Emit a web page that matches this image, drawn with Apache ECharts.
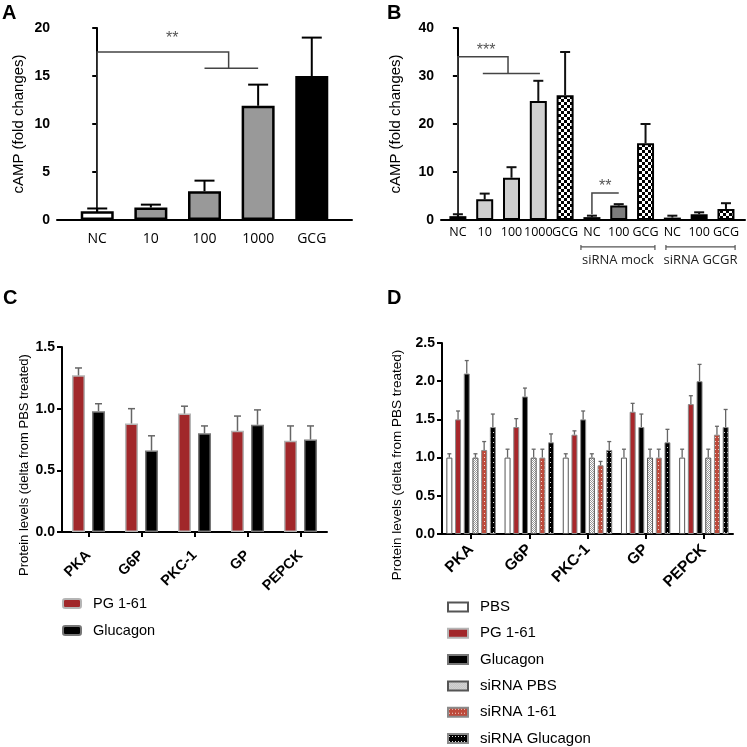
<!DOCTYPE html>
<html><head><meta charset="utf-8">
<script src="https://cdn.jsdelivr.net/npm/echarts@6/dist/echarts.min.js"></script>
<style>html,body{margin:0;padding:0;background:#fff}#c{width:747px;height:747px}</style>
</head><body><div id="c"></div>
<script>
// ---------------- DATA ----------------
// Panel A
const catsA = ['NC', '10', '100', '1000', 'GCG'];
const valA = [0.9, 1.3, 3.0, 11.9, 15.0];
const errA = [1.2, 1.6, 4.1, 14.1, 19.0];
// Panel B
const catsB = ['NC', '10', '100', '1000', 'GCG', 'NC', '100', 'GCG', 'NC', '100', 'GCG'];
const valB = [0.8, 4.3, 8.8, 24.8, 26.0, 0.6, 3.0, 16.0, 0.5, 1.2, 2.3];
const errB = [1.2, 5.5, 11.0, 29.0, 35.0, 0.9, 3.3, 20.0, 0.9, 1.6, 3.5];
const groupsB = ['siRNA mock', 'siRNA GCGR'];
const groupRangeB = [[4.59, 7.35], [7.76, 10.34]];
// Panel C
const proteins = ['PKA', 'G6P', 'PKC-1', 'GP', 'PEPCK'];
const seriesC = ['PG 1-61', 'Glucagon'];
const valC_PG = [1.27, 0.88, 0.96, 0.82, 0.74];
const errC_PG = [1.33, 1.00, 1.02, 0.94, 0.86];
const valC_Glu = [0.98, 0.66, 0.80, 0.87, 0.75];
const errC_Glu = [1.04, 0.78, 0.86, 0.99, 0.86];
// Panel D
const seriesD = ['PBS', 'PG 1-61', 'Glucagon', 'siRNA PBS', 'siRNA 1-61', 'siRNA Glucagon'];
const valD_PBS = [1.0, 1.0, 1.0, 1.0, 1.0];
const errD_PBS = [1.05, 1.11, 1.05, 1.11, 1.11];
const valD_PG = [1.5, 1.4, 1.3, 1.6, 1.7];
const errD_PG = [1.61, 1.51, 1.35, 1.71, 1.81];
const valD_Glu = [2.1, 1.8, 1.5, 1.4, 2.0];
const errD_Glu = [2.27, 1.91, 1.61, 1.57, 2.22];
const valD_siPBS = [1.0, 1.0, 1.0, 1.0, 1.0];
const errD_siPBS = [1.05, 1.11, 1.05, 1.11, 1.11];
const valD_si161 = [1.1, 1.0, 0.9, 1.0, 1.3];
const errD_si161 = [1.21, 1.11, 0.95, 1.11, 1.41];
const valD_siGlu = [1.4, 1.2, 1.1, 1.2, 1.4];
const errD_siGlu = [1.57, 1.31, 1.21, 1.37, 1.63];
// Significance annotations (data coordinates)
const bracketsA = [[[0, 1.3], [0, 17.5], [2.45, 17.5], [2.45, 15.8]], [[2.0, 15.8], [3.0, 15.8]]];
const starsA = [['**', 1.4, 18.9]];
const bracketsB = [[[0, 1.4], [0, 34], [1.87, 34], [1.87, 30.5]], [[0.93, 30.5], [3.06, 30.5]], [[5, 1.2], [5, 5.6], [6, 5.6]]];
const starsB = [['***', 1.05, 35.3]];
const starsB2 = [['**', 5.5, 7.0]];
const groupLineYB = -5.6;
const groupLabelYB = -8.4;

// ---------------- STYLE HELPERS ----------------
function makePattern(w, h, bg, fg, cells) {
  const cv = document.createElement('canvas');
  cv.width = w; cv.height = h;
  const g = cv.getContext('2d');
  g.fillStyle = bg; g.fillRect(0, 0, w, h);
  g.fillStyle = fg;
  cells.forEach(c => g.fillRect(c[0], c[1], c[2], c[3]));
  return { image: cv, repeat: 'repeat' };
}
const checker = makePattern(6, 6, '#fff', '#000', [[0, 0, 3, 3], [3, 3, 3, 3]]);
const siPBSPat = makePattern(2, 2, '#fff', '#9a9a9a', [[0, 0, 1, 1], [1, 1, 1, 1]]);
const si161Pat = makePattern(3, 4, '#bd4a3b', '#f3d6cf', [[1, 1, 1, 1]]);
const siGluPat = makePattern(3, 5, '#000', '#ddd', [[1, 2, 1, 1]]);

const colorsA = ['#ffffff', '#999999', '#999999', '#999999', '#000000'];
const colorsB = ['#ffffff', '#cfcfcf', '#cfcfcf', '#cfcfcf', checker, '#ffffff', '#7d7d7d', checker, '#ffffff', '#000000', checker];

const FONT = 'Liberation Sans';
const XFONT = 'Open Sans';

function errRender(offset, cap, color, lw) {
  return function (params, api) {
    const x = api.value(0), v = api.value(1), t = api.value(2);
    const p0 = api.coord([x, v]);
    const p1 = api.coord([x, t]);
    const cx = p0[0] + offset;
    return {
      type: 'group', children: [
        { type: 'line', shape: { x1: cx, y1: p0[1], x2: cx, y2: p1[1] }, style: { stroke: color, lineWidth: lw } },
        { type: 'line', shape: { x1: cx - cap / 2, y1: p1[1], x2: cx + cap / 2, y2: p1[1] }, style: { stroke: color, lineWidth: lw } }
      ]
    };
  };
}

function annotRender(brackets, stars, extra) {
  return function (params, api) {
    const children = [];
    brackets.forEach(b => {
      children.push({
        type: 'polyline', shape: { points: b.map(p => api.coord(p)) },
        style: { stroke: '#444', lineWidth: 1.5, fill: null }
      });
    });
    stars.forEach(s => {
      const p = api.coord([s[1], s[2]]);
      children.push({
        type: 'text', x: p[0], y: p[1],
        style: { text: s[0], fill: '#555', font: '16px ' + FONT, align: 'center', verticalAlign: 'middle' }
      });
    });
    if (extra) extra(api, children);
    return { type: 'group', children: children };
  };
}

function groupExtraB(api, children) {
  starsB2.forEach(s => {
    const p = api.coord([s[1], s[2]]);
    children.push({
      type: 'text', x: p[0], y: p[1],
      style: { text: s[0], fill: '#555', font: '16px ' + FONT, align: 'center', verticalAlign: 'middle' }
    });
  });
  groupRangeB.forEach((r, i) => {
    const a = api.coord([r[0], groupLineYB]);
    const b = api.coord([r[1], groupLineYB]);
    children.push({ type: 'line', shape: { x1: a[0], y1: a[1], x2: b[0], y2: b[1] }, style: { stroke: '#555', lineWidth: 1.2 } });
    children.push({ type: 'line', shape: { x1: a[0], y1: a[1] - 2, x2: a[0], y2: a[1] + 3 }, style: { stroke: '#555', lineWidth: 1.2 } });
    children.push({ type: 'line', shape: { x1: b[0], y1: b[1] - 2, x2: b[0], y2: b[1] + 3 }, style: { stroke: '#555', lineWidth: 1.2 } });
    const c = api.coord([(r[0] + r[1]) / 2, groupLabelYB]);
    children.push({
      type: 'text', x: c[0], y: c[1],
      style: { text: groupsB[i], fill: '#222', font: '13px ' + XFONT, align: 'center', verticalAlign: 'middle' }
    });
  });
}

// ---------------- AXES ----------------
const axisLineStyle = { lineStyle: { color: '#000', width: 2 } };
const yTickStyle = { show: true, length: 5, lineStyle: { color: '#000', width: 2 } };
const yLabelStyle = { color: '#000', fontWeight: 'bold', fontSize: 14, fontFamily: FONT, margin: 7 };

const grids = [
  { left: 57, top: 28, width: 295, height: 192 },
  { left: 441, top: 28, width: 304, height: 192 },
  { left: 62, top: 347, width: 265, height: 185 },
  { left: 442, top: 343, width: 291, height: 191 }
];

const xAxes = [
  {
    gridIndex: 0, type: 'value', min: -0.75, max: 4.75,
    axisLine: axisLineStyle, axisTick: { show: false }, splitLine: { show: false },
    axisLabel: {
      customValues: catsA.map((c, i) => i), formatter: v => catsA[Math.round(v)],
      color: '#000', fontSize: 14, fontFamily: XFONT, margin: 12
    }
  },
  {
    gridIndex: 1, type: 'value', min: -0.63, max: 10.71,
    axisLine: axisLineStyle, axisTick: { show: false }, splitLine: { show: false },
    axisLabel: {
      customValues: catsB.map((c, i) => i), formatter: v => catsB[Math.round(v)],
      color: '#000', fontSize: 12.5, fontFamily: XFONT, margin: 6
    }
  },
  {
    gridIndex: 2, type: 'category', data: proteins,
    axisLine: axisLineStyle,
    axisTick: { show: true, alignWithLabel: true, length: 5, lineStyle: { color: '#000', width: 2 } },
    axisLabel: { rotate: 45, interval: 0, color: '#000', fontWeight: 'bold', fontSize: 14.5, fontFamily: FONT, margin: 21 }
  },
  {
    gridIndex: 3, type: 'category', data: proteins,
    axisLine: axisLineStyle,
    axisTick: { show: true, alignWithLabel: true, length: 5, lineStyle: { color: '#000', width: 2 } },
    axisLabel: { rotate: 45, interval: 0, color: '#000', fontWeight: 'bold', fontSize: 15.5, fontFamily: FONT, margin: 13 }
  }
];

const yAxes = [
  {
    gridIndex: 0, type: 'value', min: 0, max: 20, interval: 5,
    axisLine: { show: true, lineStyle: { color: '#000', width: 2 } }, axisTick: yTickStyle, splitLine: { show: false },
    axisLabel: yLabelStyle,
    name: 'cAMP (fold changes)', nameLocation: 'middle', nameRotate: 90, nameGap: 31,
    nameTextStyle: { fontSize: 15, fontFamily: FONT, color: '#000' }
  },
  {
    gridIndex: 1, type: 'value', min: 0, max: 40, interval: 10,
    axisLine: { show: true, lineStyle: { color: '#000', width: 2 } }, axisTick: yTickStyle, splitLine: { show: false },
    axisLabel: yLabelStyle,
    name: 'cAMP (fold changes)', nameLocation: 'middle', nameRotate: 90, nameGap: 38,
    nameTextStyle: { fontSize: 15, fontFamily: FONT, color: '#000' }
  },
  {
    gridIndex: 2, type: 'value', min: 0, max: 1.5, interval: 0.5,
    axisLine: { show: true, lineStyle: { color: '#000', width: 2 } }, axisTick: yTickStyle, splitLine: { show: false },
    axisLabel: Object.assign({}, yLabelStyle, { formatter: v => v.toFixed(1) }),
    name: 'Protein levels (delta from PBS treated)', nameLocation: 'middle', nameRotate: 90, nameGap: 31,
    nameTextStyle: { fontSize: 13, fontFamily: FONT, color: '#000', padding: [0, 51, 0, 0] }
  },
  {
    gridIndex: 3, type: 'value', min: 0, max: 2.5, interval: 0.5,
    axisLine: { show: true, lineStyle: { color: '#000', width: 2 } }, axisTick: yTickStyle, splitLine: { show: false },
    axisLabel: Object.assign({}, yLabelStyle, { formatter: v => v.toFixed(1) }),
    name: 'Protein levels (delta from PBS treated)', nameLocation: 'middle', nameRotate: 90, nameGap: 38,
    nameTextStyle: { fontSize: 13.5, fontFamily: FONT, color: '#000', padding: [0, 53, 0, 0] }
  }
];

// ---------------- SERIES ----------------
const series = [];
// A
series.push({
  type: 'bar', name: '_A', xAxisIndex: 0, yAxisIndex: 0, barWidth: 33,
  data: valA.map((v, i) => ({ value: [i, v], itemStyle: { color: colorsA[i] } })),
  itemStyle: { borderColor: '#000', borderWidth: 2.5 }, z: 2
});
series.push({
  type: 'custom', name: '_Aerr', xAxisIndex: 0, yAxisIndex: 0, z: 3,
  data: valA.map((v, i) => [i, v, errA[i]]), renderItem: errRender(0, 20, '#000', 2)
});
series.push({
  type: 'custom', name: '_Aann', xAxisIndex: 0, yAxisIndex: 0, z: 4, clip: false,
  data: [[0, 0]], renderItem: annotRender(bracketsA, starsA)
});
// B
series.push({
  type: 'bar', name: '_B', xAxisIndex: 1, yAxisIndex: 1, barWidth: 17,
  data: valB.map((v, i) => ({ value: [i, v], itemStyle: { color: colorsB[i] } })),
  itemStyle: { borderColor: '#000', borderWidth: 2 }, z: 2
});
series.push({
  type: 'custom', name: '_Berr', xAxisIndex: 1, yAxisIndex: 1, z: 3,
  data: valB.map((v, i) => [i, v, errB[i]]), renderItem: errRender(0, 10, '#111', 2)
});
series.push({
  type: 'custom', name: '_Bann', xAxisIndex: 1, yAxisIndex: 1, z: 4, clip: false,
  data: [[0, 0]], renderItem: annotRender(bracketsB, starsB, groupExtraB)
});
// C
const cDefs = [
  { name: seriesC[0], v: valC_PG, e: errC_PG, color: '#a1272a', border: '#b5b5b5' },
  { name: seriesC[1], v: valC_Glu, e: errC_Glu, color: '#000000', border: '#777777' }
];
const cBW = 13, cGap = 0.54;
cDefs.forEach((d, i) => {
  series.push({
    type: 'bar', name: d.name, xAxisIndex: 2, yAxisIndex: 2, barWidth: cBW, barGap: (cGap * 100) + '%',
    data: d.v, itemStyle: { color: d.color, borderColor: d.border, borderWidth: 1.5 }, z: 2
  });
});
cDefs.forEach((d, i) => {
  const off = (i - (cDefs.length - 1) / 2) * cBW * (1 + cGap);
  series.push({
    type: 'custom', name: '_Cerr' + i, xAxisIndex: 2, yAxisIndex: 2, z: 3,
    data: d.v.map((v, j) => [j, v, d.e[j]]), renderItem: errRender(off, 7, '#666', 1.5)
  });
});
// D
const dDefs = [
  { name: seriesD[0], v: valD_PBS, e: errD_PBS, color: '#ffffff', border: '#555' },
  { name: seriesD[1], v: valD_PG, e: errD_PG, color: '#a8272b', border: '#8a8a8a' },
  { name: seriesD[2], v: valD_Glu, e: errD_Glu, color: '#000000', border: '#8a8a8a' },
  { name: seriesD[3], v: valD_siPBS, e: errD_siPBS, color: siPBSPat, border: '#555' },
  { name: seriesD[4], v: valD_si161, e: errD_si161, color: si161Pat, border: '#8a8a8a' },
  { name: seriesD[5], v: valD_siGlu, e: errD_siGlu, color: siGluPat, border: '#8a8a8a' }
];
const dBW = 6, dGap = 0.45;
dDefs.forEach((d, i) => {
  series.push({
    type: 'bar', name: d.name, xAxisIndex: 3, yAxisIndex: 3, barWidth: dBW, barGap: (dGap * 100) + '%',
    data: d.v, itemStyle: { color: d.color, borderColor: d.border, borderWidth: 1 }, z: 2
  });
});
dDefs.forEach((d, i) => {
  const off = (i - (dDefs.length - 1) / 2) * dBW * (1 + dGap);
  series.push({
    type: 'custom', name: '_Derr' + i, xAxisIndex: 3, yAxisIndex: 3, z: 3,
    data: d.v.map((v, j) => [j, v, d.e[j]]), renderItem: errRender(off, 4, '#666', 1.3)
  });
});

const panelLetter = (t, x, y) => ({ type: 'text', left: x, top: y, style: { text: t, font: 'bold 20px ' + FONT, fill: '#000' } });

const option = {
  animation: false,
  backgroundColor: '#fff',
  grid: grids,
  xAxis: xAxes,
  yAxis: yAxes,
  legend: [
    {
      data: seriesC, left: 62, top: 595, height: 100, padding: 0, orient: 'vertical', icon: 'roundRect', selectedMode: false,
      itemWidth: 18, itemHeight: 9, itemGap: 10,
      textStyle: { fontSize: 14.5, lineHeight: 17, fontFamily: FONT, color: '#000', padding: [0, 0, 0, 7] }
    },
    {
      data: seriesD, left: 447, top: 598.5, height: 160, padding: 0, orient: 'vertical', icon: 'rect', selectedMode: false,
      itemWidth: 20, itemHeight: 9, itemGap: 9.3,
      textStyle: { fontSize: 15, lineHeight: 17, fontFamily: FONT, color: '#000', padding: [0, 0, 0, 7] }
    }
  ],
  graphic: [panelLetter('A', 2, 3), panelLetter('B', 387, 3), panelLetter('C', 3, 288), panelLetter('D', 387, 288)],
  series: series
};

const chart = echarts.init(document.getElementById('c'), null, { renderer: 'canvas' });
chart.setOption(option);
</script>
</body></html>
